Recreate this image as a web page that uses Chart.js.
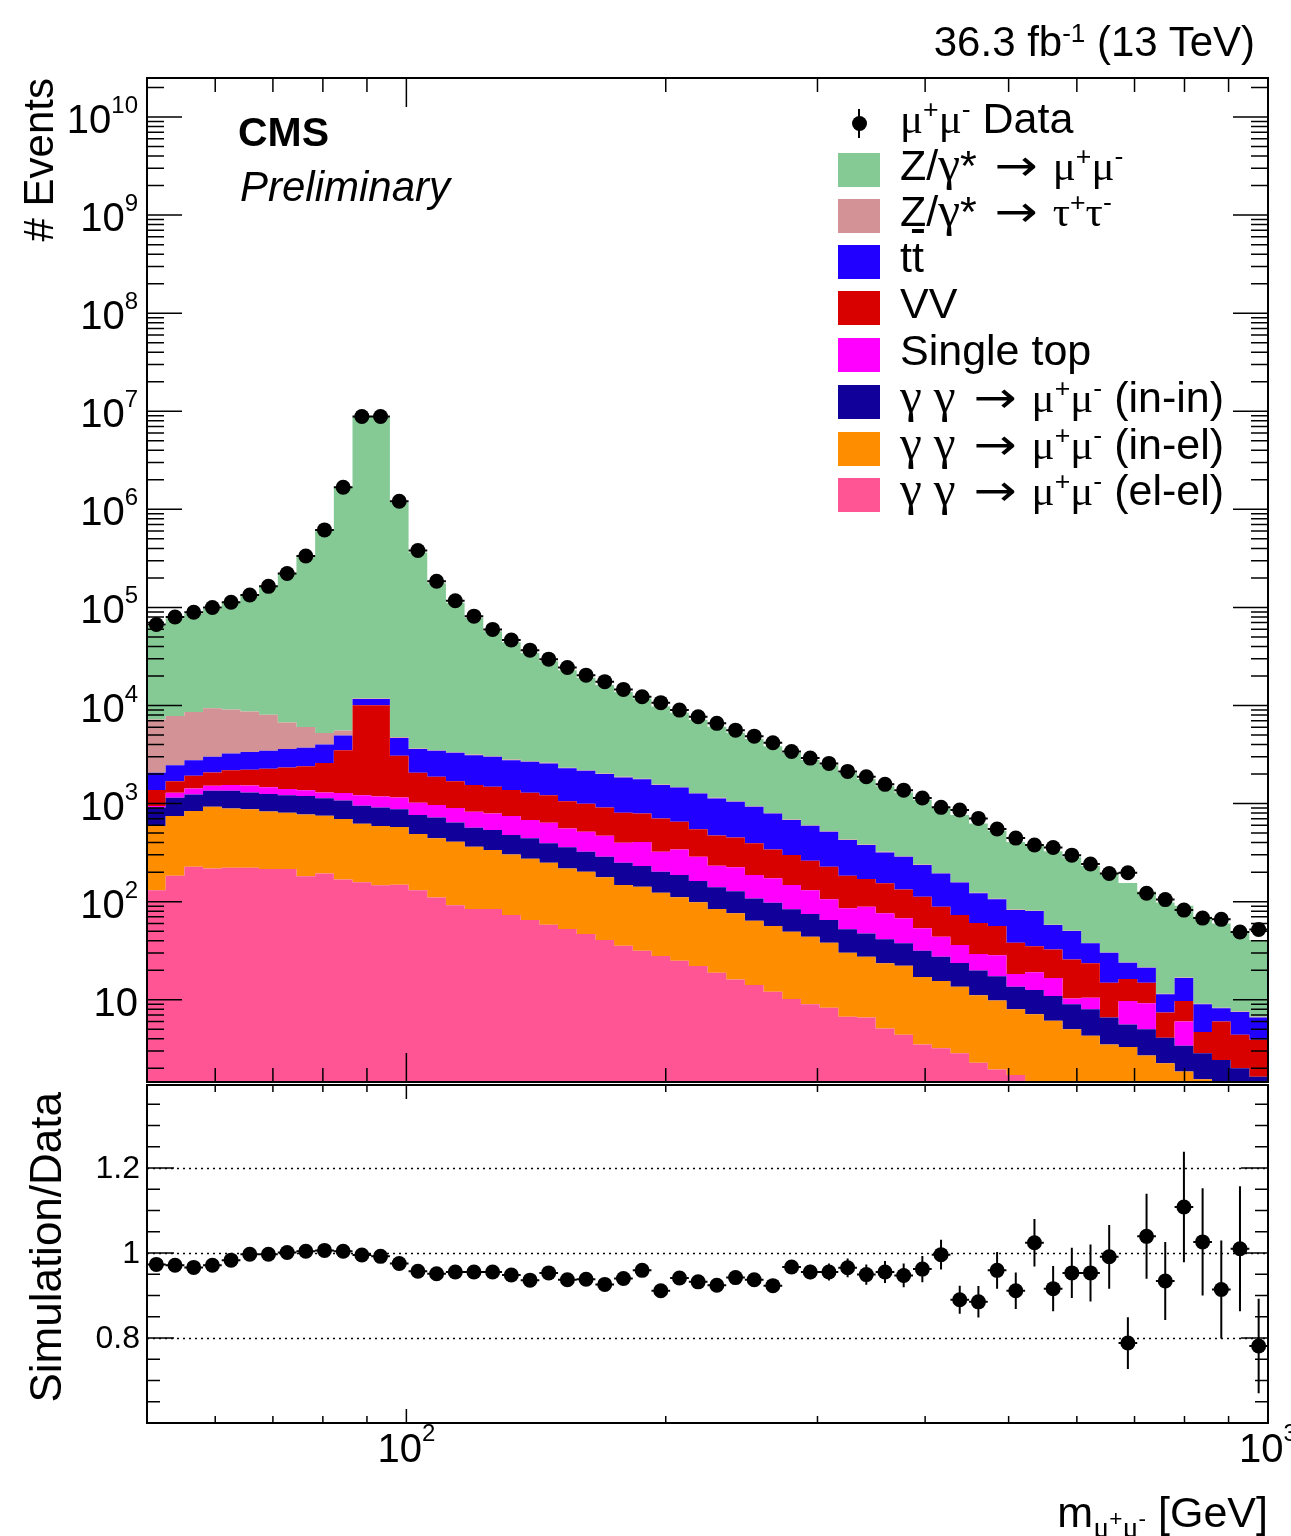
<!DOCTYPE html>
<html><head><meta charset="utf-8">
<script src="https://cdn.jsdelivr.net/npm/chart.js@4.4.1/dist/chart.umd.min.js"></script>
<style>
html,body{margin:0;padding:0;background:#fff}
#wrap{position:relative;width:1291px;height:1536px;overflow:hidden;font-family:"Liberation Sans",Arial,Helvetica,sans-serif;color:#000;background:#fff}
canvas{position:absolute;left:0}
.t{position:absolute;white-space:nowrap;line-height:1}
.sp{font-size:0.62em;position:relative;top:-0.55em}
.sb{font-size:0.7em;position:relative;top:0.33em}
.sb .sp{font-size:0.75em;top:-0.5em}
.g{font-family:"Liberation Serif","Times New Roman",serif}
.gm{font-family:"Liberation Serif","Times New Roman",serif;font-size:1.15em;line-height:0}
.ar{font-family:"DejaVu Sans",sans-serif;display:inline-block;transform:scaleX(1.2);margin:0 7px 0 9px}
.ov{text-decoration:overline}
.lg{position:absolute;left:900px;font-size:43px;line-height:1;white-space:nowrap}
.bx{position:absolute;left:838px;width:42px;height:34px}
.rot{position:absolute;white-space:nowrap;line-height:1;transform:rotate(-90deg);transform-origin:0 0;text-align:right}
</style></head><body><div id="wrap">
<canvas id="cTop" width="1291" height="1083" style="top:0;width:1291px;height:1083px"></canvas>
<canvas id="cBot" width="1291" height="453" style="top:1083px;width:1291px;height:453px"></canvas>

<div class="t" style="right:36px;top:21px;font-size:42px">36.3 fb<span class="sp">-1</span> (13 TeV)</div>
<div class="t" style="left:238px;top:112px;font-size:41px;font-weight:bold">CMS</div>
<div class="t" style="left:240px;top:166px;font-size:42px;font-style:italic">Preliminary</div>
<div class="rot" style="left:18px;top:478px;width:400px;font-size:42px"># Events</div>
<div class="rot" style="left:24px;top:1492px;width:400px;font-size:44px">Simulation/Data</div>
<div class="t" style="right:23px;top:1491px;font-size:43px">m<span class="sb"><span class="g">μ</span><span class="sp">+</span><span class="g">μ</span><span class="sp">-</span></span> [GeV]</div>
<div id="legend"></div>
</div>
<script>
// ---------------- data ----------------
const nBins = 60, massLow = 50, massHigh = 1000;   // log-uniform binning of m(mu+mu-) in GeV
const binEdges = Array.from({length: nBins + 1}, (_, i) => massLow * Math.pow(massHigh / massLow, i / nBins));
const binCenters = binEdges.slice(0, -1).map((e, i) => Math.sqrt(e * binEdges[i + 1]));

// observed events per bin
const dataEvents = [67000, 79800, 89300, 100000, 113000, 134000, 164000, 222000, 335000, 617000,
  1680000, 8850000, 8850000, 1210000, 380000, 185000, 117000, 81500, 59700, 46500,
  36700, 29700, 24400, 20400, 17500, 14600, 12300, 10700, 8980, 7670,
  6580, 5610, 4870, 4170, 3400, 2910, 2570, 2130, 1880, 1570,
  1370, 1140, 915, 859, 706, 550, 445, 378, 357, 298,
  242, 194, 197, 122, 105, 82, 68, 66, 49, 52];

// cumulative stack tops (each = sum of this process and all processes below it)
const stackElEl = [131, 184, 227, 218, 222, 222, 215, 215, 182, 194,
  168, 158, 147, 149, 131, 110, 92, 84, 84, 73,
  65, 58, 52.6, 46.8, 40.6, 35.5, 31.6, 27.9, 25, 22.1,
  18.8, 16.1, 14.1, 12.1, 10.2, 9.0, 8.3, 6.7, 6.6, 5.1,
  4.4, 3.5, 3.2, 2.85, 2.28, 1.95, 1.71, 1.35, 1.2, 1.05,
  0.95, 0.85, 0.75, 0.67, 0.6, 0.53, 0.47, 0.42, 0.37, 0.33];
const stackInEl = [590, 746, 839, 928, 893, 875, 830, 805, 772, 750,
  697, 622, 591, 576, 489, 442, 408, 363, 336, 303,
  274, 249, 218, 202, 177, 148, 142, 123, 111, 98.4,
  84, 76, 63.8, 56.4, 49.3, 43.9, 38.1, 30.1, 27.4, 23.5,
  22.2, 17.1, 15.5, 13.6, 11.1, 9.8, 8.0, 7.1, 6.1, 5.0,
  4.3, 3.5, 3.3, 2.7, 2.25, 1.85, 1.55, 1.3, 1.1, 0.95];
const stackInIn = [914, 1146, 1241, 1350, 1350, 1294, 1256, 1219, 1193, 1132,
  1076, 951, 912, 875, 764, 723, 643, 566, 537, 477,
  442, 393, 358, 323, 287, 249, 231, 202, 187, 162,
  140, 128, 108, 97.5, 83.6, 74.8, 64.9, 52.2, 47.5, 41.3,
  37.6, 31.6, 27.4, 23.7, 19.9, 17.4, 13.6, 12.6, 10.9, 9.0,
  8.0, 6.6, 5.6, 5.0, 4.1, 3.4, 2.85, 2.43, 2.0, 1.64];
const stackSingleTop = [944, 1288, 1429, 1517, 1545, 1530, 1466, 1405, 1364, 1294,
  1280, 1219, 1181, 1156, 1019, 966, 900, 825, 794, 746,
  679, 637, 558, 516, 470, 398, 405, 323, 341, 287,
  232, 225, 187, 173, 148, 131, 106, 85.5, 88.8, 76,
  67.6, 53.5, 43.9, 36.1, 29.2, 28.4, 18.3, 19.1, 16.7, 10.3,
  10.5, 6.6, 9.7, 9.2, 4.1, 6.0, 2.85, 2.43, 2.0, 1.64];
const stackVV = [1374, 1694, 1919, 2078, 2193, 2217, 2265, 2335, 2405, 2588,
  3491, 10090, 10090, 3076, 2061, 1875, 1694, 1545, 1483, 1374,
  1288, 1213, 1059, 995, 914, 805, 794, 706, 652, 546,
  474, 452, 393, 341, 299, 261, 227, 184, 170, 154,
  133, 112, 88.8, 73, 60.5, 56.4, 38.1, 35.2, 32.6, 25.8,
  23.5, 14.9, 16.3, 14.9, 7.4, 9.7, 4.7, 6.0, 4.4, 3.9];
const stackTTbar = [2061, 2466, 2773, 2999, 3250, 3350, 3451, 3606, 3715, 3993,
  4955, 11670, 11670, 4656, 3597, 3451, 3296, 3119, 2999, 2773,
  2667, 2570, 2286, 2158, 1999, 1849, 1766, 1545, 1462, 1270,
  1130, 1042, 927, 794, 679, 594, 516, 425, 378, 318,
  287, 236, 194, 157, 122, 106, 82, 80.2, 57.7, 50.1,
  37.6, 30.1, 23.8, 21.2, 11.4, 16.7, 9.0, 8.2, 7.5, 6.6];
const stackZtautau = [7200, 7800, 8570, 9400, 9080, 8670, 8060, 6700, 6040, 5240,
  5560, 11800, 11800, 4760, 3655, 3500, 3345, 3165, 3045, 2815,
  2705, 2605, 2320, 2190, 2030, 1875, 1790, 1565, 1480, 1285,
  1145, 1055, 938, 803, 687, 601, 522, 430, 382, 322,
  290, 239, 196, 159, 123, 107, 83, 81, 58.3, 50.6,
  38, 30.4, 24, 21.4, 11.5, 16.9, 9.1, 8.3, 7.6, 6.7];
const stackZmumu = [65200, 77500, 86300, 97100, 111100, 133600, 163500, 222200, 336300, 620700,
  1687000, 8806000, 8779000, 1180000, 363700, 175900, 111700, 77800, 57000, 44100,
  34350, 28300, 22860, 19140, 16200, 13720, 11800, 9750, 8450, 7150,
  6080, 5285, 4563, 3850, 3288, 2779, 2454, 2055, 1784, 1499,
  1297, 1097, 911, 765, 625, 527, 405, 387, 327, 284,
  231, 192, 155, 127, 98, 91, 70, 60, 49.5, 40.6];

// Simulation / Data ratio and its uncertainty
const ratioSimData = [0.973, 0.971, 0.966, 0.971, 0.983, 0.997, 0.997, 1.001, 1.004, 1.006,
  1.004, 0.995, 0.992, 0.975, 0.957, 0.951, 0.955, 0.955, 0.955, 0.948,
  0.936, 0.953, 0.937, 0.938, 0.926, 0.940, 0.959, 0.911, 0.941, 0.932,
  0.924, 0.942, 0.937, 0.923, 0.967, 0.955, 0.955, 0.965, 0.949, 0.955,
  0.947, 0.962, 0.996, 0.890, 0.885, 0.959, 0.911, 1.024, 0.916, 0.953,
  0.953, 0.991, 0.788, 1.039, 0.934, 1.108, 1.026, 0.914, 1.010, 0.781];
const ratioErr = [0.004, 0.004, 0.004, 0.004, 0.004, 0.004, 0.004, 0.003, 0.003, 0.002,
  0.002, 0.001, 0.001, 0.002, 0.003, 0.004, 0.005, 0.005, 0.006, 0.006,
  0.007, 0.007, 0.008, 0.008, 0.009, 0.009, 0.010, 0.010, 0.011, 0.011,
  0.012, 0.013, 0.014, 0.015, 0.016, 0.017, 0.020, 0.022, 0.024, 0.026,
  0.028, 0.031, 0.035, 0.033, 0.037, 0.043, 0.043, 0.056, 0.053, 0.059,
  0.067, 0.075, 0.061, 0.100, 0.092, 0.130, 0.126, 0.115, 0.147, 0.111];

// axis ticks / labels
const xMajorTicks = [100, 1000];
const xMinorTicks = [60, 70, 80, 90, 200, 300, 400, 500, 600, 700, 800, 900];
const xTickLabels = [[100, '10', '2'], [1000, '10', '3']];
const yDecadeExponents = [1, 2, 3, 4, 5, 6, 7, 8, 9, 10];
const ratioMajorTicks = [0.6, 0.8, 1.0, 1.2, 1.4];
const ratioTickLabels = [[0.8, '0.8'], [1.0, '1'], [1.2, '1.2']];
const ratioGridLines = [0.8, 1.0, 1.2];

// legend (top of stack first)
const MU = '<span class="g">μ</span>', TAU = '<span class="g">τ</span>', GAM = '<span class="gm">γ</span>';
const ARROW = '<span class="ar">→</span>';
const PM = (p) => p + '<span class="sp">+</span>' + p + '<span class="sp">-</span>';
const procNames = ['Z/' + GAM + '* ' + ARROW + ' ' + PM(MU),
  'Z/' + GAM + '* ' + ARROW + ' ' + PM(TAU),
  't<span class="ov">t</span>', 'VV', 'Single top',
  GAM + ' ' + GAM + ' ' + ARROW + ' ' + PM(MU) + ' (in-in)',
  GAM + ' ' + GAM + ' ' + ARROW + ' ' + PM(MU) + ' (in-el)',
  GAM + ' ' + GAM + ' ' + ARROW + ' ' + PM(MU) + ' (el-el)'];
const procColors = ['#85CA94', '#D39396', '#2200FF', '#D90000', '#FF00FF', '#12009A', '#FF8D00', '#FF5595'];

// ---------------- drawing ----------------
const FONT = '"Liberation Sans", Arial, Helvetica, sans-serif';
function steps(vals) {
  const pts = vals.map((v, i) => ({x: binEdges[i], y: v}));
  pts.push({x: binEdges[nBins], y: vals[nBins - 1]});
  return pts;
}
function stackDs(vals, color, fill) {
  return {data: steps(vals), stepped: 'before', pointRadius: 0, borderWidth: 0,
    borderColor: 'rgba(0,0,0,0)', backgroundColor: color, fill: fill};
}
function segs(ctx, list, lw) {
  ctx.lineWidth = lw; ctx.beginPath();
  list.forEach(s => { ctx.moveTo(s[0], s[1]); ctx.lineTo(s[2], s[3]); });
  ctx.stroke();
}
function xTicks(ctx, x, a, majLen, minLen) {
  const l = [];
  xMajorTicks.forEach(v => { const p = x.getPixelForValue(v); l.push([p, a.bottom, p, a.bottom - majLen], [p, a.top, p, a.top + majLen]); });
  xMinorTicks.forEach(v => { const p = x.getPixelForValue(v); l.push([p, a.bottom, p, a.bottom - minLen], [p, a.top, p, a.top + minLen]); });
  segs(ctx, l, 1.5);
}

const topDecor = {
  id: 'topDecor',
  afterDatasetsDraw(chart) {
    const {ctx, chartArea: a, scales: {x, y}} = chart;
    ctx.save();
    ctx.strokeStyle = '#000'; ctx.fillStyle = '#000';
    const eb = [];
    dataEvents.forEach((v, i) => { const py = y.getPixelForValue(v); eb.push([x.getPixelForValue(binEdges[i]), py, x.getPixelForValue(binEdges[i + 1]), py]); });
    segs(ctx, eb, 2);
    ctx.lineWidth = 2; ctx.strokeRect(a.left, a.top, a.right - a.left, a.bottom - a.top);
    xTicks(ctx, x, a, 29, 14);
    const l = [];
    for (let k = 0; k <= 10; k++) {
      for (let m = 1; m <= 9; m++) {
        const v = m * Math.pow(10, k);
        if (v < y.min || v > y.max) continue;
        const p = y.getPixelForValue(v), len = m === 1 ? 35 : 17;
        l.push([a.left, p, a.left + len, p], [a.right, p, a.right - len, p]);
      }
    }
    segs(ctx, l, 1.5);
    yDecadeExponents.forEach(k => {
      const p = y.getPixelForValue(Math.pow(10, k));
      const right = 138;
      ctx.textAlign = 'left'; ctx.textBaseline = 'alphabetic';
      if (k === 1) {
        ctx.font = '40px ' + FONT;
        const w = ctx.measureText('10').width;
        ctx.fillText('10', right - w, p + 16);
      } else {
        ctx.font = '24px ' + FONT;
        const ew = ctx.measureText(String(k)).width;
        ctx.fillText(String(k), right - ew, p - 4);
        ctx.font = '40px ' + FONT;
        const w = ctx.measureText('10').width;
        ctx.fillText('10', right - ew - w, p + 16);
      }
    });
    ctx.restore();
  }
};

const botDecor = {
  id: 'botDecor',
  beforeDatasetsDraw(chart) {
    const {ctx, chartArea: a, scales: {y}} = chart;
    ctx.save();
    ctx.strokeStyle = '#000'; ctx.lineWidth = 1.5; ctx.setLineDash([2, 4]);
    ctx.beginPath();
    ratioGridLines.forEach(v => { const p = Math.round(y.getPixelForValue(v)) + 0.5; ctx.moveTo(a.left, p); ctx.lineTo(a.right, p); });
    ctx.stroke();
    ctx.restore();
  },
  afterDatasetsDraw(chart) {
    const {ctx, chartArea: a, scales: {x, y}} = chart;
    ctx.save();
    ctx.strokeStyle = '#000'; ctx.fillStyle = '#000';
    const eb = [];
    ratioSimData.forEach((r, i) => {
      const py = y.getPixelForValue(r), px = x.getPixelForValue(binCenters[i]);
      eb.push([x.getPixelForValue(binEdges[i]), py, x.getPixelForValue(binEdges[i + 1]), py]);
      eb.push([px, y.getPixelForValue(r - ratioErr[i]), px, y.getPixelForValue(r + ratioErr[i])]);
    });
    ctx.save(); ctx.beginPath(); ctx.rect(a.left, a.top, a.right - a.left, a.bottom - a.top); ctx.clip();
    segs(ctx, eb, 2);
    ctx.restore();
    ctx.lineWidth = 2; ctx.strokeRect(a.left, a.top, a.right - a.left, a.bottom - a.top);
    xTicks(ctx, x, a, 14, 7);
    const l = [];
    for (let i = 0; i <= 16; i++) {
      const v = 0.6 + i * 0.05;
      if (v > y.max + 1e-6) continue;
      const p = y.getPixelForValue(v);
      const major = ratioMajorTicks.some(t => Math.abs(t - v) < 1e-6);
      const len = major ? 27 : 13;
      l.push([a.left, p, a.left + len, p], [a.right, p, a.right - len, p]);
    }
    segs(ctx, l, 1.5);
    ctx.font = '32px ' + FONT; ctx.textAlign = 'right'; ctx.textBaseline = 'middle';
    ratioTickLabels.forEach(([v, s]) => ctx.fillText(s, 140, y.getPixelForValue(v) + 1));
    xTickLabels.forEach(([v, b, e]) => {
      const p = x.getPixelForValue(v);
      ctx.textAlign = 'left'; ctx.textBaseline = 'alphabetic';
      ctx.font = '40px ' + FONT; const bw = ctx.measureText(b).width;
      ctx.font = '24px ' + FONT; const ew = ctx.measureText(e).width;
      const x0 = p - (bw + ew) / 2;
      ctx.font = '40px ' + FONT; ctx.fillText(b, x0, 1462 - 1083);
      ctx.font = '24px ' + FONT; ctx.fillText(e, x0 + bw, 1441 - 1083);
    });
    ctx.restore();
  }
};

const common = {
  responsive: false, animation: false, devicePixelRatio: 1, events: [],
  plugins: {legend: {display: false}, tooltip: {enabled: false}, filler: {propagate: false}}
};

new Chart(document.getElementById('cTop'), {
  type: 'line',
  data: {datasets: [
    {data: dataEvents.map((v, i) => ({x: binCenters[i], y: v})), showLine: false, pointRadius: 7.5,
      pointBackgroundColor: '#000', pointBorderWidth: 0, pointBorderColor: '#000', borderColor: '#000', fill: false},
    stackDs(stackElEl, procColors[7], 'start'),
    stackDs(stackInEl, procColors[6], '-1'),
    stackDs(stackInIn, procColors[5], '-1'),
    stackDs(stackSingleTop, procColors[4], '-1'),
    stackDs(stackVV, procColors[3], '-1'),
    stackDs(stackTTbar, procColors[2], '-1'),
    stackDs(stackZtautau, procColors[1], '-1'),
    stackDs(stackZmumu, procColors[0], '-1')
  ]},
  options: Object.assign({}, common, {
    layout: {autoPadding: false, padding: {left: 147, right: 23, top: 78, bottom: 1}},
    scales: {
      x: {type: 'logarithmic', min: massLow, max: massHigh, display: false},
      y: {type: 'logarithmic', min: 1.45, max: 2.5e10, display: false}
    }
  }),
  plugins: [topDecor]
});

new Chart(document.getElementById('cBot'), {
  type: 'line',
  data: {datasets: [
    {data: ratioSimData.map((r, i) => ({x: binCenters[i], y: r})), showLine: false, pointRadius: 7.5,
      pointBackgroundColor: '#000', pointBorderWidth: 0, pointBorderColor: '#000', borderColor: '#000', fill: false}
  ]},
  options: Object.assign({}, common, {
    layout: {autoPadding: false, padding: {left: 147, right: 23, top: 2, bottom: 113}},
    scales: {
      x: {type: 'logarithmic', min: massLow, max: massHigh, display: false},
      y: {type: 'linear', min: 0.6, max: 1.395, display: false}
    }
  }),
  plugins: [botDecor]
});

// legend
(function () {
  const lg = document.getElementById('legend');
  const baselines = [133, 180, 226, 272, 318, 365, 412, 459, 505];
  let html = '<div class="lg" style="top:' + (baselines[0] - 36.4) + 'px">' + PM(MU) + ' Data</div>';
  html += '<div style="position:absolute;left:858px;top:109px;width:2px;height:29px;background:#000"></div>';
  html += '<div style="position:absolute;left:851.5px;top:116px;width:15px;height:15px;border-radius:50%;background:#000"></div>';
  procNames.forEach((n, i) => {
    const b = baselines[i + 1];
    html += '<div class="bx" style="top:' + (b - 27.5) + 'px;background:' + procColors[i] + '"></div>';
    html += '<div class="lg" style="top:' + (b - 36.4) + 'px">' + n + '</div>';
  });
  lg.innerHTML = html;
})();
</script></body></html>
